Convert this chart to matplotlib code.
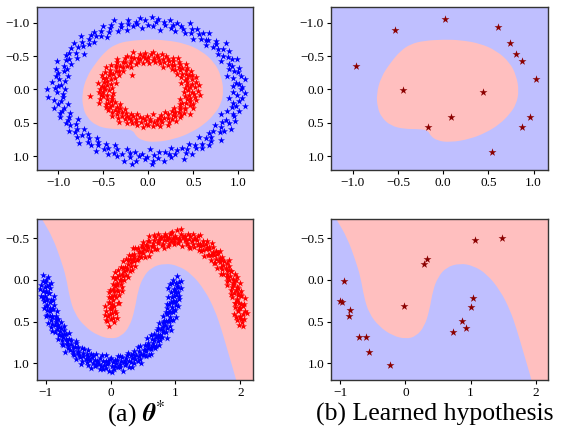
import matplotlib.pyplot as plt
import numpy as np
from matplotlib.patches import PathPatch
from matplotlib.path import Path

plt.rcParams['font.family'] = ['Liberation Serif', 'DejaVu Serif']
plt.rcParams['mathtext.fontset'] = 'stix'

BLUE_BG = '#bfbfff'
PINK_BG = '#ffbfbf'

# point clouds as (angle in degrees, radial offset in 1/100) around each ring / moon
outer_ring = [
    (0, 3), (2, -6), (3, 8), (5, -1), (7, 5), (8, -9), (10, 2), (12, -4), (13, 10), (14, 0),
    (16, -3), (18, 6), (20, -7), (21, 1), (23, 4), (25, -11), (26, 7), (28, -2), (29, 3), (31, -5),
    (33, 9), (35, -1), (36, -8), (37, 5), (39, 2), (41, -4), (43, 11), (44, -6), (46, 0), (48, 4),
    (49, -3), (51, 7), (52, -9), (54, 1), (56, 6), (58, -2), (59, 3), (61, -7), (63, 8), (64, -1),
    (66, 4), (67, -5), (69, 12), (71, -3), (73, 2), (74, -8), (76, 5), (77, 0), (79, -4), (81, 9),
    (83, -6), (84, 3), (86, -1), (87, 7), (88, 12), (89, -10), (91, 2), (92, 5), (94, -3), (96, 0), (97, 8),
    (99, 13), (99, -5), (101, 4), (102, -2), (104, 10), (105, -7), (107, 1), (109, 6), (111, -4), (112, 3),
    (114, -9), (115, 7), (117, -1), (119, 2), (120, -6), (122, 9), (124, 0), (125, -3), (127, 5), (128, -8),
    (130, 4), (132, -2), (134, 11), (135, -5), (137, 1), (138, 6), (140, -7), (142, 3), (143, -1), (145, 8),
    (147, -4), (148, 2), (150, -10), (151, 5), (153, 0), (155, -3), (157, 7), (158, -6), (160, 4), (161, 1),
    (163, -2), (165, 9), (166, -8), (168, 3), (170, -1), (171, 6), (173, -4), (174, 12), (176, -5), (178, 2),
    (180, 13), (180, -7), (181, 4), (183, 0), (184, -3), (186, 8), (188, -6), (189, 1), (191, 5), (193, -9),
    (194, 3), (196, -2), (197, 7), (199, -4), (201, 0), (203, 10), (204, -6), (206, 2), (207, -1), (209, 5),
    (211, -8), (212, 4), (214, -3), (216, 6), (217, -11), (219, 1), (220, 8), (222, -2), (224, 3), (226, -5),
    (227, 9), (229, 0), (230, -7), (232, 4), (234, -1), (235, 6), (237, -4), (239, 2), (240, -9), (242, 7),
    (243, -3), (245, 1), (247, 5), (249, -6), (250, 11), (252, -2), (253, 3), (255, -8), (257, 0), (258, 6),
    (260, -4), (262, 2), (263, -1), (265, 8), (266, -7), (268, 4), (270, -3), (272, 9), (273, -5), (275, 1),
    (276, 6), (278, -10), (280, 3), (281, -2), (283, 7), (285, -4), (286, 0), (288, 5), (289, -8), (291, 2),
    (293, -1), (295, 10), (296, -6), (298, 3), (299, -3), (301, 6), (303, -9), (304, 1), (306, 4), (308, -5),
    (309, 8), (311, -2), (312, 0), (314, -7), (316, 5), (318, 2), (319, -4), (321, 11), (322, -1), (324, 3),
    (326, -6), (327, 7), (329, -3), (331, 1), (332, -8), (334, 4), (335, 9), (337, -2), (339, 0), (341, -5),
    (342, 6), (344, -1), (345, 3), (347, -10), (349, 5), (350, -4), (352, 8), (354, -2), (355, 1), (357, -6),
    (358, 4),
]

inner_ring = [
    (1, -4), (2, 7), (4, 1), (6, -8), (7, 3), (9, 10), (11, -2), (12, 5), (14, -6), (15, 0),
    (17, 8), (19, -3), (21, 2), (22, -10), (24, 6), (26, -1), (27, 4), (29, -5), (30, 9), (32, -7),
    (34, 1), (36, 3), (37, -4), (39, 11), (40, -2), (42, 6), (44, -8), (45, 0), (47, 5), (49, -3),
    (50, 7), (52, -6), (54, 2), (55, -1), (57, 9), (59, -5), (60, 4), (62, -9), (63, 1), (65, 6),
    (67, -2), (68, 10), (70, -7), (72, 3), (73, 0), (75, -4), (77, 8), (78, -1), (80, 5), (82, -11),
    (83, 2), (85, 7), (87, -3), (88, 0), (90, 6), (92, -8), (93, 4), (95, -2), (96, 9), (98, -5),
    (100, 1), (102, -6), (103, 7), (105, 3), (107, -1), (108, -9), (110, 5), (112, 2), (113, -4), (115, 8),
    (116, 0), (118, -7), (120, 4), (121, -2), (123, 11), (125, -5), (126, 1), (128, 6), (130, -3), (131, -8),
    (133, 3), (135, 9), (136, -1), (138, -6), (140, 5), (141, 0), (143, -4), (145, 7), (146, -10), (148, 2),
    (150, -2), (151, 6), (153, -7), (155, 4), (156, 1), (158, -3), (160, 10), (161, -5), (163, 0), (165, 8),
    (166, -6), (168, 3), (170, -1), (171, 18), (171, 5), (173, -9), (175, 2), (176, 7), (178, -4), (180, 0),
    (181, 6), (183, -8), (185, 1), (186, 4), (188, -2), (190, 9), (191, -6), (193, 3), (195, -1), (196, -11),
    (198, 5), (200, 2), (201, -4), (203, 8), (205, -7), (206, 0), (208, 6), (210, -3), (211, 1), (213, -9),
    (215, 4), (216, 10), (218, -2), (220, -5), (221, 7), (223, 1), (225, -8), (226, 3), (228, -1), (230, -20),
    (230, 6), (231, -4), (233, 9), (235, -6), (236, 2), (238, 0), (240, -10), (241, 5), (243, -3), (245, 8),
    (246, -1), (248, 4), (250, -7), (251, 2), (253, 11), (255, -5), (256, 0), (258, -2), (260, 6), (261, -8),
    (263, 3), (265, -1), (266, 7), (268, -4), (270, 1), (271, -9), (273, 5), (275, 9), (276, -3), (278, 0),
    (280, -6), (281, 4), (283, 2), (285, -2), (286, 8), (288, -7), (290, 1), (291, 6), (293, -4), (295, 3),
    (296, -11), (298, 0), (300, 7), (301, -5), (303, 2), (305, 10), (306, -3), (308, -1), (310, 5), (311, -8),
    (313, 4), (315, 0), (316, -6), (318, 9), (320, 1), (321, -2), (323, 6), (325, -9), (326, 3), (328, -4),
    (330, 7), (331, 0), (333, -7), (335, 2), (336, 5), (338, -1), (340, -5), (341, 8), (343, 3), (345, -3),
    (346, -10), (348, 6), (350, 1), (351, -4), (353, 9), (355, -2), (356, 4), (358, -7),
]

lower_moon = [
    (-3, 2), (0, -4), (0.5, 9), (1, 6), (2, 1), (2.5, -6), (3, -8), (4, 3), (4.5, 4), (5, 9),
    (6, -2), (6.5, -11), (7, 0), (8, 5), (8.5, 1), (9, -6), (10, 2), (10.5, 7), (11, -1), (12, 7),
    (12.5, -3), (13, -10), (14, 4), (14.5, 0), (15, 1), (16, -3), (16.5, 5), (17, 8), (18, -5), (18.5, -8),
    (19, 0), (20, 6), (20.5, 3), (21, -7), (22, 3), (22.5, -1), (23, -2), (24, 10), (24.5, -6), (25, -4),
    (26, 1), (26.5, 8), (27, 5), (28, -8), (28.5, 2), (29, 2), (30, -1), (30.5, -4), (31, 7), (32, -5),
    (32.5, 11), (33, 0), (34, 4), (34.5, -2), (35, -9), (36, 6), (36.5, 0), (37, -3), (38, 2), (38.5, -7),
    (39, 11), (40, -6), (40.5, 5), (41, 1), (42, -2), (42.5, 1), (43, 5), (44, -7), (44.5, -3), (45, 3),
    (46, 8), (46.5, -9), (47, -1), (48, -4), (48.5, 6), (49, 0), (50, 6), (50.5, 3), (51, -10), (52, 2),
    (52.5, -5), (53, 4), (54, -3), (54.5, 0), (55, 9), (56, -6), (56.5, 8), (57, 1), (58, -1), (58.5, -2),
    (59, 7), (60, -8), (60.5, 4), (61, 3), (62, 0), (62.5, -10), (63, -4), (64, 5), (64.5, 1), (65, 10),
    (66, -2), (66.5, 6), (67, -7), (68, 2), (68.5, -4), (69, -1), (70, 6), (70.5, -1), (71, -5), (72, 3),
    (72.5, 9), (73, -9), (74, 1), (74.5, -6), (75, 8), (76, -3), (76.5, 2), (77, 0), (78, 4), (78.5, 0),
    (79, -6), (80, 11), (80.5, -8), (81, -2), (82, 2), (82.5, 5), (83, -8), (84, 5), (84.5, -3), (85, 0),
    (86, -4), (86.5, 3), (87, 7), (88, -1), (88.5, 10), (89, 3), (90, -7), (90.5, -5), (91, 9), (92, -3),
    (92.5, 0), (93, 1), (94, 6), (94.5, -2), (95, -10), (96, 2), (96.5, 7), (97, -2), (98, 4), (98.5, -9),
    (99, 8), (100, -5), (100.5, 2), (101, 0), (102, -1), (102.5, 4), (103, 6), (104, -8), (104.5, -1), (105, 3),
    (106, 10), (106.5, -6), (107, -4), (108, 1), (108.5, 8), (109, -6), (110, 5), (110.5, 1), (111, -2), (112, 2),
    (112.5, -4), (113, -9), (114, 7), (114.5, 11), (115, 0), (116, -3), (116.5, -7), (117, 4), (118, -7), (118.5, 3),
    (119, 9), (120, 1), (120.5, 0), (121, -1), (122, -5), (122.5, 6), (123, 6), (124, 3), (124.5, -3), (125, -8),
    (126, 0), (126.5, -9), (127, 5), (128, -2), (128.5, 5), (129, 11), (130, -6), (130.5, 2), (131, 2), (132, -4),
    (132.5, -1), (133, 7), (134, -1), (134.5, 8), (135, -10), (136, 4), (136.5, -5), (137, 1), (138, -3), (138.5, 0),
    (139, 8), (140, -7), (140.5, 4), (141, 3), (142, 0), (142.5, -10), (143, -5), (144, 6), (144.5, 1), (145, -2),
    (146, 9), (146.5, -2), (147, -8), (148, 2), (148.5, 7), (149, -1), (150, 5), (150.5, -6), (151, -4), (152, 10),
    (152.5, 3), (153, -6), (154, 1), (154.5, 0), (155, 3), (156, -9), (156.5, 9), (157, 7), (158, 0), (158.5, -4),
    (159, -3), (160, 4), (160.5, -1), (161, -7), (162, 8), (162.5, 5), (163, 2), (164, -2), (164.5, -8), (165, -5),
    (166, 6), (166.5, 2), (167, 1), (168, -10), (168.5, 6), (169, 3), (170, 9), (170.5, -3), (171, -4), (172, 0),
    (172.5, 0), (173, 5), (174, -6), (174.5, 10), (175, 2), (176, -1), (176.5, -5), (177, 7), (178, -8), (178.5, 1),
    (179, 4), (180, 0), (182, -3), (183, 5),
]

upper_moon = [
    (177, 3), (180, -5), (180.5, 6), (181, 7), (182, 0), (182.5, -3), (183, -9), (184, 4), (184.5, 9), (185, 1),
    (186, -2), (186.5, -7), (187, 8), (188, -6), (188.5, 1), (189, 2), (190, 10), (190.5, -1), (191, -3), (192, 0),
    (192.5, 5), (193, 5), (194, -8), (194.5, -10), (195, -1), (196, 6), (196.5, 3), (197, 3), (198, -4), (198.5, 0),
    (199, 9), (200, -7), (200.5, 7), (201, 1), (202, 4), (202.5, -4), (203, -2), (204, -10), (204.5, 2), (205, 7),
    (206, 0), (206.5, -8), (207, 2), (208, -5), (208.5, 6), (209, 11), (210, -1), (210.5, -2), (211, 5), (212, -6),
    (212.5, 10), (213, 3), (214, -3), (214.5, 0), (215, 8), (216, -9), (216.5, -5), (217, 0), (218, 6), (218.5, 4),
    (219, -2), (220, 2), (220.5, -1), (221, -7), (222, 9), (222.5, -9), (223, 1), (224, -4), (224.5, 7), (225, 4),
    (226, -1), (226.5, 3), (227, -8), (228, 7), (228.5, -3), (229, 0), (230, 5), (230.5, 0), (231, -5), (232, 3),
    (232.5, -6), (233, 10), (234, -3), (234.5, 8), (235, -6), (236, 1), (236.5, 2), (237, 6), (238, -2), (238.5, -4),
    (239, -9), (240, 4), (240.5, 5), (241, 0), (242, 8), (242.5, -11), (243, -4), (244, 2), (244.5, 1), (245, -1),
    (246, -7), (246.5, 6), (247, 5), (248, 11), (248.5, -2), (249, -3), (250, 0), (250.5, -7), (251, 3), (252, -8),
    (252.5, 9), (253, 6), (254, -2), (254.5, 0), (255, 1), (256, 9), (256.5, 3), (257, -5), (258, 4), (258.5, -5),
    (259, -10), (260, 0), (260.5, 4), (261, 7), (262, -1), (262.5, -8), (263, 2), (264, -6), (264.5, 1), (265, 5),
    (266, -3), (266.5, 7), (267, 8), (268, 1), (268.5, -3), (269, -7), (270, 3), (270.5, 0), (271, 10), (272, -4),
    (272.5, -6), (273, 0), (274, -2), (274.5, 11), (275, 6), (276, -9), (276.5, 2), (277, 2), (278, 4), (278.5, -1),
    (279, -1), (280, 7), (280.5, -4), (281, -5), (282, 1), (282.5, 5), (283, -8), (284, 9), (284.5, -9), (285, 0),
    (286, -3), (286.5, 3), (287, 5), (288, -6), (288.5, 8), (289, 3), (290, 11), (290.5, 0), (291, -2), (292, 0),
    (292.5, -2), (293, -7), (294, 6), (294.5, -7), (295, 2), (296, -4), (296.5, 4), (297, 8), (298, -1), (298.5, 1),
    (299, -10), (300, 4), (300.5, 10), (301, 1), (302, -5), (302.5, -5), (303, 7), (304, -3), (304.5, 2), (305, 0),
    (306, 5), (306.5, -1), (307, -8), (308, 3), (308.5, 6), (309, 9), (310, -2), (310.5, -8), (311, -6), (312, 2),
    (312.5, 0), (313, 6), (314, -1), (314.5, 3), (315, -9), (316, 4), (316.5, -4), (317, 0), (318, 10), (318.5, 7),
    (319, -4), (320, 1), (320.5, -10), (321, 7), (322, -7), (322.5, 1), (323, 3), (324, -2), (324.5, 5), (325, 5),
    (326, -5), (326.5, -2), (327, 0), (328, 8), (328.5, -6), (329, -3), (330, 2), (330.5, 9), (331, -10), (332, 6),
    (332.5, 0), (333, 1), (334, -1), (334.5, -3), (335, 9), (336, -6), (336.5, 4), (337, 4), (338, 0), (338.5, -8),
    (339, -4), (340, 7), (340.5, 2), (341, -8), (342, 2), (342.5, 6), (343, 5), (344, -2), (344.5, -1), (345, 11),
    (346, -5), (346.5, -5), (347, 0), (348, 3), (348.5, 8), (349, -7), (350, 6), (350.5, 0), (351, 1), (352, -3),
    (352.5, -3), (353, 8), (354, -9), (354.5, 10), (355, 4), (356, 0), (356.5, -6), (357, -1), (358, 6), (358.5, 1),
    (359, -5), (360, 2), (362, -2), (363, 4),
]

# few training points of the learned hypothesis panels
circles_sample_x = [0.02, -0.53, 0.61, -0.965, 0.735, 0.80, 0.866, 1.03, -0.44, 0.44, 0.088, -0.17, 0.96, 0.877, 0.54]
circles_sample_y = [-1.06, -0.89, -0.94, -0.35, -0.70, -0.53, -0.43, -0.155, 0.005, 0.045, 0.41, 0.57, 0.41, 0.56, 0.935]
moons_sample_x = [-0.998, -0.973, -0.947, -0.855, -0.86, -0.716, -0.607, -0.556, -0.24, -0.015,
                  0.28, 0.33, 1.07, 1.49, 1.035, 1.0, 0.876, 0.927, 0.727]
moons_sample_y = [0.25, 0.26, 0.01, 0.365, 0.43, 0.69, 0.69, 0.86, 1.02, 0.315,
                  -0.19, -0.255, -0.48, -0.50, 0.22, 0.32, 0.49, 0.58, 0.63]

# decision regions
circle_region = [
    (-0.737, 0.07), (-0.726, 0.27), (-0.682, 0.42), (-0.58, 0.545), (-0.433, 0.595), (-0.251, 0.595),
    (-0.165, 0.62), (-0.141, 0.695), (-0.068, 0.77), (0.078, 0.795), (0.297, 0.745), (0.48, 0.645),
    (0.626, 0.52), (0.736, 0.37), (0.809, 0.22), (0.838, 0.02), (0.809, -0.205), (0.736, -0.405),
    (0.59, -0.58), (0.407, -0.69), (0.188, -0.74), (0.005, -0.748), (-0.214, -0.73), (-0.36, -0.68),
    (-0.47, -0.58), (-0.58, -0.405), (-0.689, -0.18),
]
moon_boundary = [
    (-1.11, -0.80), (-1.046, -0.713), (-0.892, -0.508), (-0.763, -0.232), (-0.686, -0.034), (-0.634, 0.203),
    (-0.557, 0.40), (-0.402, 0.558), (-0.196, 0.669), (0.010, 0.708), (0.165, 0.676), (0.294, 0.558),
    (0.371, 0.361), (0.423, 0.124), (0.5, -0.034), (0.629, -0.153), (0.835, -0.2), (1.041, -0.172),
    (1.247, -0.074), (1.454, 0.124), (1.608, 0.361), (1.711, 0.598), (1.814, 0.874), (1.918, 1.15),
    (1.97, 1.30),
]


def polar_cloud(pairs, radius, cx=0.0, cy=0.0):
    a = np.deg2rad([p[0] for p in pairs])
    r = radius + np.array([p[1] for p in pairs]) / 100.0
    return cx + r * np.cos(a), cy + r * np.sin(a)


def closed_smooth(pts):
    pts = np.asarray(pts)
    mids = (pts + np.roll(pts, -1, axis=0)) / 2
    verts, codes = [mids[-1]], [Path.MOVETO]
    for p, m in zip(pts, mids):
        verts += [p, m]
        codes += [Path.CURVE3, Path.CURVE3]
    return Path(verts, codes)


def moon_region(pts):
    pts = np.asarray(pts)
    verts, codes = [pts[0]], [Path.MOVETO]
    for i in range(1, len(pts) - 1):
        verts += [pts[i], (pts[i] + pts[i + 1]) / 2]
        codes += [Path.CURVE3, Path.CURVE3]
    verts += [pts[-1], (-1.5, 1.5), (-1.5, -1.0), pts[0]]
    codes += [Path.LINETO, Path.LINETO, Path.LINETO, Path.CLOSEPOLY]
    return Path(verts, codes)


def style(ax, xlim, ylim):
    ax.set_xlim(*xlim)
    ax.set_ylim(*ylim)
    ax.tick_params(labelsize=9.5, length=3, width=0.8, pad=2)
    for s in ax.spines.values():
        s.set_color('0.2')
        s.set_linewidth(1.0)


fig = plt.figure(figsize=(5.61, 4.29), dpi=100)
ax_tl = fig.add_axes([0.0654, 0.6037, 0.385, 0.379])
ax_tr = fig.add_axes([0.590, 0.6037, 0.387, 0.379])
ax_bl = fig.add_axes([0.0654, 0.1142, 0.385, 0.375])
ax_br = fig.add_axes([0.590, 0.1142, 0.387, 0.375])

for ax in (ax_tl, ax_tr):
    ax.set_facecolor(BLUE_BG)
    ax.add_patch(PathPatch(closed_smooth(circle_region), facecolor=PINK_BG, edgecolor='none', zorder=1))
    style(ax, (-1.24, 1.16), (1.21, -1.23))
for ax in (ax_bl, ax_br):
    ax.set_facecolor(PINK_BG)
    ax.add_patch(PathPatch(moon_region(moon_boundary), facecolor=BLUE_BG, edgecolor='none', zorder=1))
    style(ax, (-1.14, 2.19), (1.2, -0.73))

x, y = polar_cloud(outer_ring, 1.0)
ax_tl.scatter(x, y, marker='*', s=28, c='blue', linewidths=0, zorder=2)
x, y = polar_cloud(inner_ring, 0.48)
ax_tl.scatter(x, y, marker='*', s=28, c='red', linewidths=0, zorder=2)
x, y = polar_cloud(lower_moon, 1.0)
ax_bl.scatter(x, y, marker='*', s=28, c='blue', linewidths=0, zorder=2)
x, y = polar_cloud(upper_moon, 1.0, 1.0, 0.5)
ax_bl.scatter(x, y, marker='*', s=28, c='red', linewidths=0, zorder=2)

ax_tr.scatter(circles_sample_x, circles_sample_y, marker='*', s=36, c='darkred', linewidths=0, zorder=2)
ax_br.scatter(moons_sample_x, moons_sample_y, marker='*', s=36, c='darkred', linewidths=0, zorder=2)

fig.text(0.243, 0.035, r'(a) $\boldsymbol{\theta}^{*}$', ha='center', va='center', fontsize=18.5)
fig.text(0.775, 0.035, '(b) Learned hypothesis', ha='center', va='center', fontsize=18.5)

fig.savefig('out.png', dpi=100)
